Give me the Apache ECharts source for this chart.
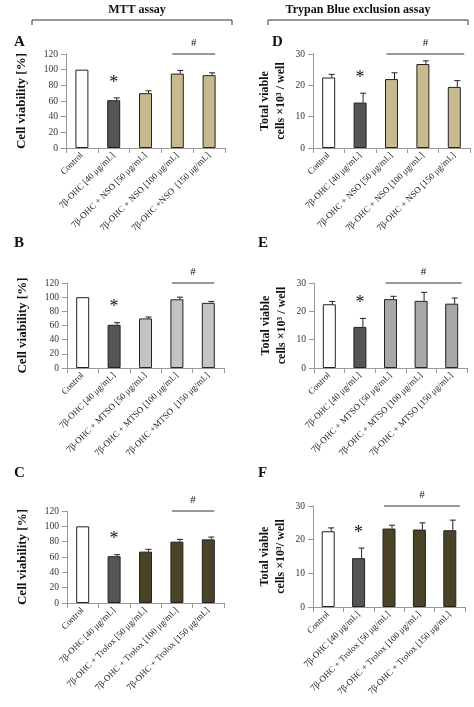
<!DOCTYPE html>
<html><head><meta charset="utf-8">
<script src="https://cdn.jsdelivr.net/npm/echarts@6/dist/echarts.min.js"></script>
<style>html,body{margin:0;padding:0;background:#fff}#c{width:474px;height:707px}</style>
</head><body><div id="c"></div>
<script>
// categories
var catsNSO = ['Control', '7β-OHC [40 μg/mL]', '7β-OHC + NSO [50 μg/mL]', '7β-OHC + NSO [100 μg/mL]', '7β-OHC +NSO  [150 μg/mL]'];
var catsNSO2 = ['Control', '7β-OHC [40 μg/mL]', '7β-OHC + NSO [50 μg/mL]', '7β-OHC + NSO [100 μg/mL]', '7β-OHC + NSO [150 μg/mL]'];
var catsMTSO = ['Control', '7β-OHC [40 μg/mL]', '7β-OHC + MTSO [50 μg/mL]', '7β-OHC + MTSO [100 μg/mL]', '7β-OHC +MTSO  [150 μg/mL]'];
var catsMTSO2 = ['Control', '7β-OHC [40 μg/mL]', '7β-OHC + MTSO [50 μg/mL]', '7β-OHC + MTSO [100 μg/mL]', '7β-OHC + MTSO [150 μg/mL]'];
var catsTrolox = ['Control', '7β-OHC [40 μg/mL]', '7β-OHC + Trolox [50 μg/mL]', '7β-OHC + Trolox [100 μg/mL]', '7β-OHC + Trolox [150 μg/mL]'];

// values and SD
var mttNSO = [100, 61, 70, 95, 93];
var mttNSOErr = [0, 3, 3, 4, 3];
var tbNSO = [22.5, 14.5, 22, 26.8, 19.5];
var tbNSOErr = [1, 3, 2, 1, 2];
var mttMTSO = [100, 61, 70, 97, 92];
var mttMTSOErr = [0, 3, 2, 3, 2];
var tbMTSO = [22.5, 14.5, 24.3, 23.7, 22.7];
var tbMTSOErr = [1, 3, 1, 3, 2];
var mttTrolox = [100, 61, 67, 80, 83];
var mttTroloxErr = [0, 2, 3, 3, 3];
var tbTrolox = [22.5, 14.5, 23.3, 23, 22.8];
var tbTroloxErr = [1, 3, 1, 2, 3];

var serif = 'Liberation Serif';
var panels = [
  {cats: catsNSO, v: mttNSO, e: mttNSOErr, col: '#c9b98f', max: 120, iv: 20, grid: {left: 66, width: 159, top: 54, height: 94}, mtt: true, from: 3, to: 4, name: 'Cell viability [%]'},
  {cats: catsNSO2, v: tbNSO, e: tbNSOErr, col: '#c9b98f', max: 30, iv: 10, grid: {left: 313, width: 157, top: 54, height: 94}, mtt: false, from: 2, to: 4, name: 'Total viable\ncells ×10³ / well'},
  {cats: catsMTSO, v: mttMTSO, e: mttMTSOErr, col: '#c4c4c4', max: 120, iv: 20, grid: {left: 67, width: 157, top: 283, height: 85}, mtt: true, from: 3, to: 4, name: 'Cell viability [%]'},
  {cats: catsMTSO2, v: tbMTSO, e: tbMTSOErr, col: '#a8a8a8', max: 30, iv: 10, grid: {left: 314, width: 153, top: 283, height: 85}, mtt: false, from: 2, to: 4, name: 'Total viable\ncells ×10³ / well'},
  {cats: catsTrolox, v: mttTrolox, e: mttTroloxErr, col: '#4a4328', max: 120, iv: 20, grid: {left: 67, width: 157, top: 511, height: 92}, mtt: true, from: 3, to: 4, name: 'Cell viability [%]'},
  {cats: catsTrolox, v: tbTrolox, e: tbTroloxErr, col: '#4a4328', max: 30, iv: 10, grid: {left: 313, width: 152, top: 506, height: 101}, mtt: false, from: 2, to: 4, name: 'Total viable\ncells ×10³/ well'}
];

var grids = [], xAxes = [], yAxes = [], series = [];
panels.forEach(function (p, i) {
  grids.push(p.grid);
  xAxes.push({
    type: 'category', gridIndex: i, data: p.cats,
    axisLine: {lineStyle: {color: '#999'}},
    axisTick: {show: true, lineStyle: {color: '#999'}},
    axisLabel: {interval: 0, rotate: 45, fontFamily: serif, fontSize: 9, color: '#222', margin: 6}
  });
  yAxes.push({
    type: 'value', gridIndex: i, min: 0, max: p.max, interval: p.iv,
    name: p.name, nameLocation: 'middle', nameRotate: 90,
    nameGap: p.mtt ? 36 : 24,
    nameTextStyle: {fontFamily: serif, fontWeight: 'bold', fontSize: p.mtt ? 13 : 12, color: '#111', lineHeight: 16},
    axisLine: {show: true, lineStyle: {color: '#999'}},
    axisTick: {show: true, lineStyle: {color: '#999'}},
    splitLine: {show: false},
    axisLabel: {fontFamily: serif, fontSize: 9.5, color: '#333'}
  });
  var cols = ['#ffffff', '#555555', p.col, p.col, p.col];
  series.push({
    type: 'bar', xAxisIndex: i, yAxisIndex: i, barWidth: 13,
    data: p.v.map(function (val, k) {
      return {value: val, itemStyle: {color: cols[k], borderColor: '#222', borderWidth: 1}};
    })
  });
  series.push({
    type: 'custom', xAxisIndex: i, yAxisIndex: i, z: 3,
    data: p.v.map(function (val, k) { return [k, val, p.e[k]]; }),
    renderItem: function (params, api) {
      var k = api.value(0), val = api.value(1), er = api.value(2);
      var top = api.coord([k, val + er]);
      var base = api.coord([k, val]);
      var ch = [];
      if (er > 0) {
        ch.push({type: 'line', shape: {x1: top[0] + 3, y1: base[1], x2: top[0] + 3, y2: top[1]}, style: {stroke: '#222', lineWidth: 1}});
        ch.push({type: 'line', shape: {x1: top[0], y1: top[1], x2: top[0] + 6, y2: top[1]}, style: {stroke: '#222', lineWidth: 1}});
      }
      if (k === 1) {
        ch.push({type: 'text', x: top[0], y: top[1] - 6, style: {text: '*', fontFamily: serif, fontSize: 18, fill: '#111', align: 'center', verticalAlign: 'bottom'}});
      }
      return {type: 'group', children: ch};
    }
  });
});

var chart = echarts.init(document.getElementById('c'));
chart.setOption({
  animation: false,
  grid: grids, xAxis: xAxes, yAxis: yAxes, series: series
});

// annotations from scales
var g = [];
function txt(x, y, t, size, bold) {
  g.push({type: 'text', x: x, y: y, style: {text: t, fontFamily: serif, fontSize: size, fontWeight: bold ? 'bold' : 'normal', fill: '#111', align: 'center', verticalAlign: 'middle'}});
}
function bracket(x1, x2, y) {
  g.push({type: 'polyline', shape: {points: [[x1, y + 5], [x1, y], [x2, y], [x2, y + 5]]}, style: {stroke: '#333', lineWidth: 1, fill: null}});
}
txt(137, 10, 'MTT assay', 12, true);
bracket(32, 232, 20);
txt(358, 10, 'Trypan Blue exclusion assay', 12, true);
bracket(268, 468, 20);
[['A', 14, 42], ['D', 272, 42], ['B', 14, 243], ['E', 258, 243], ['C', 14, 473], ['F', 258, 473]].forEach(function (l) {
  g.push({type: 'text', x: l[1], y: l[2], style: {text: l[0], fontFamily: serif, fontSize: 15, fontWeight: 'bold', fill: '#111', verticalAlign: 'middle'}});
});
panels.forEach(function (p, i) {
  var xa = chart.convertToPixel({xAxisIndex: i}, p.from) - 5;
  var xb = chart.convertToPixel({xAxisIndex: i}, p.to) + (p.mtt ? 6 : 10);
  var y = chart.convertToPixel({yAxisIndex: i}, p.max);
  g.push({type: 'line', shape: {x1: xa, y1: y, x2: xb, y2: y}, style: {stroke: '#333', lineWidth: 1}});
  txt((xa + xb) / 2, y - 11, '#', 11, false);
});
chart.setOption({graphic: g});
</script>
</body></html>
